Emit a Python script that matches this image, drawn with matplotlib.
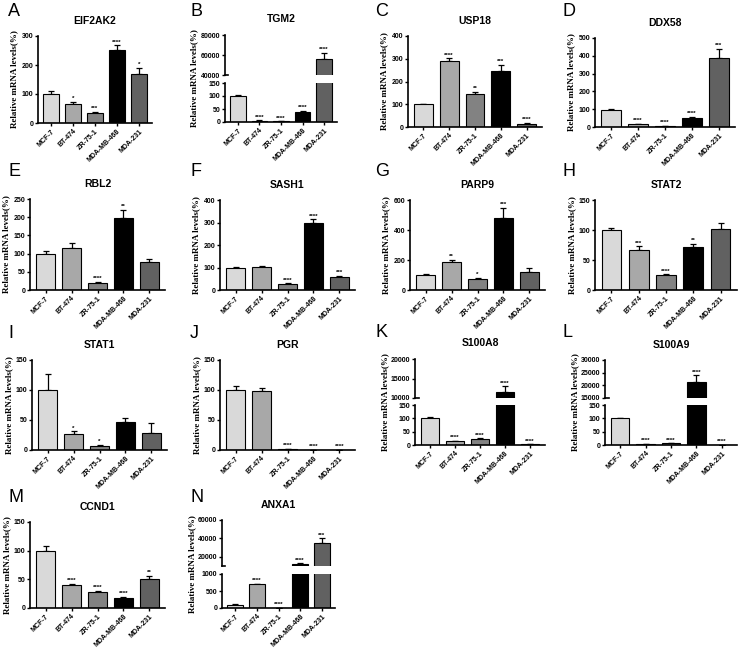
import matplotlib
matplotlib.use('Agg')
import matplotlib.pyplot as plt

plt.rcParams['font.family'] = ['Liberation Sans', 'DejaVu Sans']

# cell lines and bar colours
cells = ['MCF-7', 'BT-474', 'ZR-75-1', 'MDA-MB-468', 'MDA-231']
colors = ['#d9d9d9', '#a8a8a8', '#828282', '#000000', '#616161']

# values (mean, sd, stars)
eif2ak2 = [100, 65, 33, 250, 170]
eif2ak2_err = [10, 8, 6, 18, 20]
eif2ak2_sig = ['', '*', '***', '****', '*']

tgm2 = [100, 5, 2, 38, 56000]
tgm2_err = [4, 1, 0.5, 5, 6000]
tgm2_sig = ['', '****', '****', '****', '****']

usp18 = [100, 290, 143, 248, 15]
usp18_err = [2, 12, 12, 25, 3]
usp18_sig = ['', '****', '**', '***', '****']

ddx58 = [97, 15, 5, 52, 385]
ddx58_err = [3, 3, 1, 6, 55]
ddx58_sig = ['', '****', '****', '****', '***']

rbl2 = [100, 116, 20, 198, 78]
rbl2_err = [8, 13, 2, 22, 7]
rbl2_sig = ['', '', '****', '**', '']

sash1 = [100, 102, 27, 297, 57]
sash1_err = [3, 5, 2, 17, 7]
sash1_sig = ['', '', '****', '****', '***']

parp9 = [100, 185, 75, 480, 122]
parp9_err = [8, 18, 8, 70, 22]
parp9_sig = ['', '**', '*', '***', '']

stat2 = [100, 67, 25, 72, 101]
stat2_err = [4, 6, 1, 5, 10]
stat2_sig = ['', '***', '****', '**', '']

stat1 = [100, 26, 7, 47, 28]
stat1_err = [26, 5, 2, 6, 17]
stat1_sig = ['', '*', '*', '', '']

pgr = [100, 99, 1, 0.3, 0.3]
pgr_err = [6, 4, 0.5, 0.2, 0.2]
pgr_sig = ['', '', '****', '****', '****']

s100a8 = [100, 14, 23, 11500, 2]
s100a8_err = [5, 2, 2, 1500, 0.5]
s100a8_sig = ['', '****', '****', '****', '****']

s100a9 = [100, 3, 6, 21500, 1]
s100a9_err = [3, 1, 1, 2500, 0.3]
s100a9_sig = ['', '****', '****', '****', '****']

ccnd1 = [100, 40, 28, 17, 50]
ccnd1_err = [8, 2, 2, 2, 6]
ccnd1_sig = ['', '****', '****', '****', '**']

anxa1 = [100, 700, 5, 12000, 35000]
anxa1_err = [5, 20, 1, 800, 5000]
anxa1_sig = ['', '****', '****', '****', '***']

W, H = 740, 649
fig = plt.figure(figsize=(W / 100, H / 100), dpi=100)
TICK = 5

def box(x0, x1, ytop, ybot):
    return [x0 / W, 1 - ybot / H, (x1 - x0) / W, (ybot - ytop) / H]

def style(ax, bottom=True):
    ax.spines['top'].set_visible(False)
    ax.spines['right'].set_visible(False)
    ax.spines['left'].set_linewidth(1.2)
    ax.spines['bottom'].set_linewidth(1.2)
    ax.tick_params(axis='y', labelsize=TICK, width=1, length=2.5, pad=1)
    ax.tick_params(axis='x', labelsize=TICK, width=1, length=2.5, pad=1)
    for t in ax.get_yticklabels():
        t.set_fontweight('bold')
    if not bottom:
        ax.spines['bottom'].set_visible(False)
        ax.tick_params(axis='x', bottom=False, labelbottom=False)

def bars(ax, vals, errs):
    x = range(len(vals))
    ax.bar(x, vals, width=0.72, color=colors, edgecolor='black', linewidth=0.8, zorder=2)
    ax.errorbar(x, vals, yerr=[[0] * len(vals), errs], fmt='none', ecolor='black',
                elinewidth=0.9, capsize=2.5, capthick=0.9, zorder=1)
    ax.set_xlim(-0.6, len(vals) - 0.4)

def xlabels(ax):
    ax.set_xticks(range(len(cells)))
    ax.set_xticklabels(cells, rotation=45, ha='right', rotation_mode='anchor',
                       fontsize=TICK, fontweight='bold')

def stars(ax, vals, errs, sig):
    for i, s in enumerate(sig):
        if s:
            ax.annotate(s, (i, vals[i] + errs[i]), xytext=(0, 0.5), textcoords='offset points',
                        ha='center', va='bottom', fontsize=4.5, fontweight='bold', annotation_clip=False)

def simple(pos, title, vals, errs, sig, ymax, step):
    ax = fig.add_axes(box(*pos))
    bars(ax, vals, errs)
    ax.set_ylim(0, ymax)
    ax.set_yticks(range(0, ymax + 1, step))
    xlabels(ax)
    stars(ax, vals, errs, sig)
    style(ax)
    ax.set_title(title, fontsize=7.5, fontweight='bold', pad=9)
    ax.set_ylabel('Relative mRNA levels(%)', fontsize=6.5, fontweight='bold',
                  family='Liberation Serif', labelpad=2)
    return ax

def broken(x0, x1, top, bot, title, vals, errs, sig, lo_ticks, hi_lim, hi_ticks, lab_dx):
    ax_hi = fig.add_axes(box(x0, x1, top[0], top[1]))
    ax_lo = fig.add_axes(box(x0, x1, bot[0], bot[1]))
    for ax in (ax_hi, ax_lo):
        bars(ax, vals, errs)
    ax_lo.set_ylim(0, lo_ticks[-1])
    ax_lo.set_yticks(lo_ticks)
    ax_hi.set_ylim(*hi_lim)
    ax_hi.set_yticks(hi_ticks)
    xlabels(ax_lo)
    style(ax_lo)
    style(ax_hi, bottom=False)
    # short mark on the axis at the break
    ax_hi.plot([-0.6, -0.45], [hi_lim[0], hi_lim[0]], color='black', lw=1.2, clip_on=False)
    for i, s in enumerate(sig):
        if not s:
            continue
        y = vals[i] + errs[i]
        ax = ax_hi if y > hi_lim[0] else ax_lo
        ax.annotate(s, (i, y), xytext=(0, 0.5), textcoords='offset points', ha='center',
                    va='bottom', fontsize=4.5, fontweight='bold', annotation_clip=False)
    ax_hi.set_title(title, fontsize=7.5, fontweight='bold', pad=9)
    fig.text((x0 - lab_dx) / W, 1 - ((top[0] + bot[1]) / 2) / H, 'Relative mRNA levels(%)',
             rotation=90, ha='center', va='center', fontsize=6.5, fontweight='bold',
             family='Liberation Serif')

# row 1
simple((38, 152, 36, 123), 'EIF2AK2', eif2ak2, eif2ak2_err, eif2ak2_sig, 300, 100)
broken(225, 337, (35, 75), (83, 122), 'TGM2', tgm2, tgm2_err, tgm2_sig,
       [0, 50, 100, 150], (40000, 80000), [40000, 60000, 80000], 31)
simple((408, 542, 36, 127), 'USP18', usp18, usp18_err, usp18_sig, 400, 100)
simple((595, 735, 38, 127), 'DDX58', ddx58, ddx58_err, ddx58_sig, 500, 100)

# row 2
simple((30, 165, 199, 290), 'RBL2', rbl2, rbl2_err, rbl2_sig, 250, 50)
simple((220, 355, 200, 290), 'SASH1', sash1, sash1_err, sash1_sig, 400, 100)
simple((410, 545, 200, 290), 'PARP9', parp9, parp9_err, parp9_sig, 600, 200)
simple((595, 737, 200, 290), 'STAT2', stat2, stat2_err, stat2_sig, 150, 50)

# row 3
simple((32, 167, 360, 450), 'STAT1', stat1, stat1_err, stat1_sig, 150, 50)
simple((220, 355, 360, 450), 'PGR', pgr, pgr_err, pgr_sig, 150, 50)
broken(415, 545, (359, 398), (405, 445), 'S100A8', s100a8, s100a8_err, s100a8_sig,
       [0, 50, 100, 150], (10000, 20000), [10000, 15000, 20000], 30)
broken(605, 737, (360, 398), (405, 445), 'S100A9', s100a9, s100a9_err, s100a9_sig,
       [0, 50, 100, 150], (15000, 30000), [15000, 20000, 25000, 30000], 30)

# row 4
simple((30, 165, 522, 608), 'CCND1', ccnd1, ccnd1_err, ccnd1_sig, 150, 50)
broken(222, 335, (520, 566), (574, 608), 'ANXA1', anxa1, anxa1_err, anxa1_sig,
       [0, 500, 1000], (10000, 60000), [20000, 40000, 60000], 30)

# panel letters
letters = {'A': (8, 12), 'B': (190, 12), 'C': (375, 12), 'D': (562, 12),
           'E': (8, 172), 'F': (190, 172), 'G': (375, 172), 'H': (562, 172),
           'I': (8, 334), 'J': (190, 334), 'K': (375, 332), 'L': (562, 332),
           'M': (8, 497), 'N': (190, 497)}
for k, (lx, ly) in letters.items():
    fig.text(lx / W, 1 - ly / H, k, fontsize=13, ha='left', va='center')

fig.savefig('out.png', dpi=100, facecolor='white')
